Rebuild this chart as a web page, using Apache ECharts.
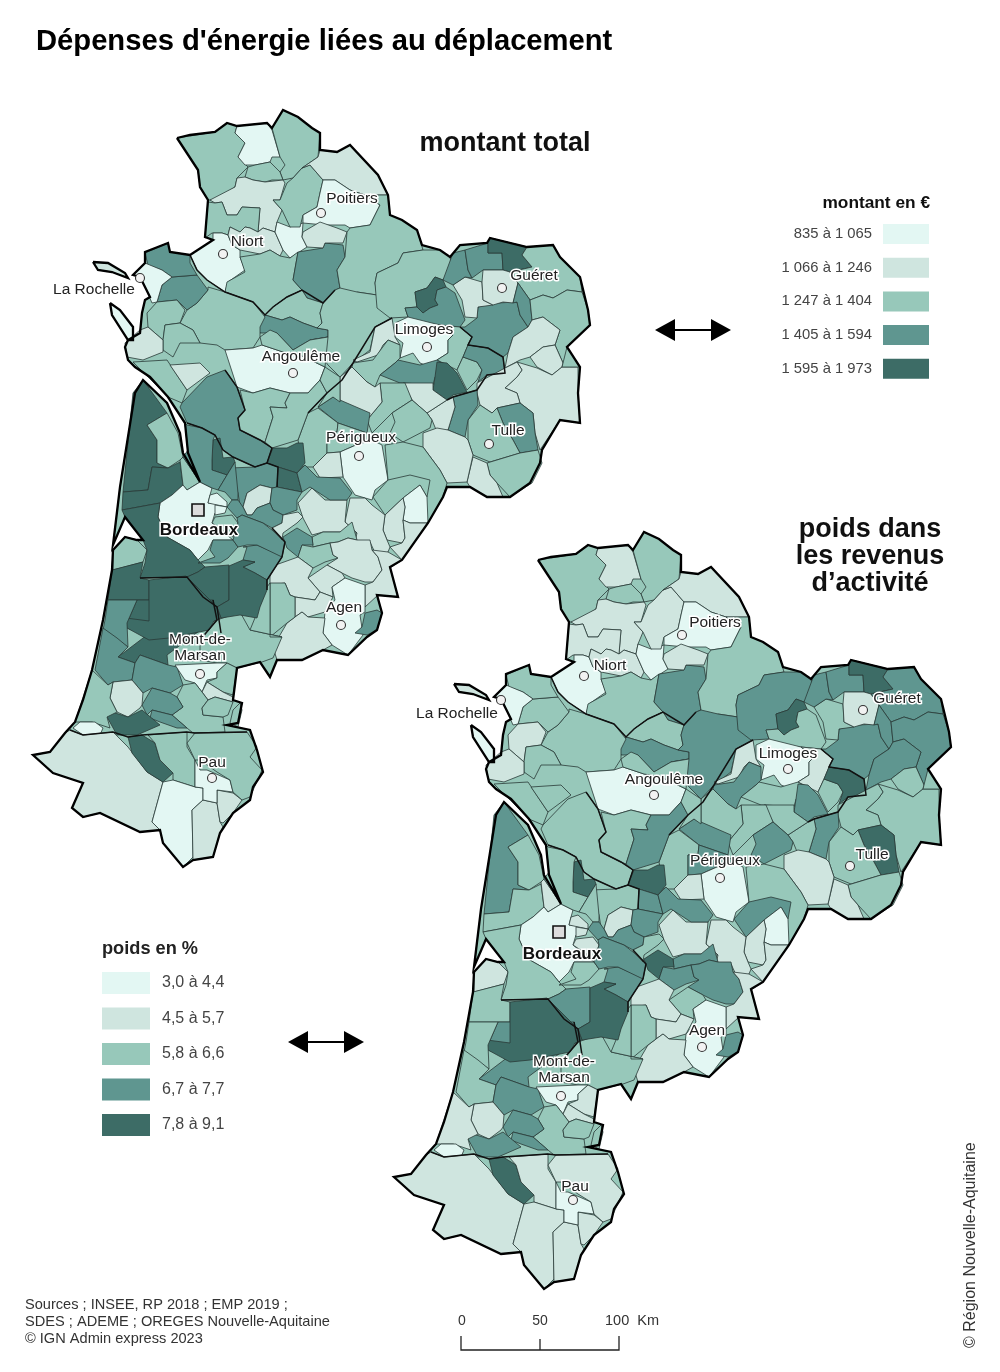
<!DOCTYPE html>
<html><head><meta charset="utf-8">
<style>html,body{margin:0;padding:0;background:#fff}#c{width:1000px;height:1372px}</style>
<script src="https://cdn.jsdelivr.net/npm/echarts@6/dist/echarts.min.js"></script>
</head><body><div id="c"></div>
<script>
// ---- class breaks and legends
const montantLabels=['835 à 1 065','1 066 à 1 246','1 247 à 1 404','1 405 à 1 594','1 595 à 1 973'];
const montantMin=[835,1066,1247,1405,1595];
const montantMax=[1065,1246,1404,1594,1973];
const poidsLabels=['3,0 à 4,4','4,5 à 5,7','5,8 à 6,6','6,7 à 7,7','7,8 à 9,1'];
const poidsMin=[3.0,4.5,5.8,6.7,7.8];
const poidsMax=[4.4,5.7,6.6,7.7,9.1];
const classColors=['#e3f7f3','#cfe5df','#97c8ba','#5f9690','#3d6c66'];

// ---- territories: values estimated from the class colour of each map (one value per zone, same order as zoneShapes)
const montant=[
1320,1320,950,1320,1320,1150,1320,950,1150,950,
1320,1500,1320,1150,950,1150,1320,1320,1500,1320,
1320,1750,1500,950,1320,1150,1320,1500,1750,1320,
1500,1500,1150,1500,1500,1750,1150,1320,1500,1320,
1150,1150,1150,1320,1150,1500,1320,1320,1150,1500,
1150,1150,1150,1320,1320,1150,1500,1320,1320,950,
1150,1320,1320,950,1150,1150,1150,1150,1320,1500,
1320,1150,1150,1150,950,1500,1150,1150,1150,1320,
1320,1320,1750,1320,1750,1320,950,1320,1750,1750,
1500,1500,1750,1750,1750,1750,1500,1500,1500,950,
1320,1150,1320,1320,1320,1500,1500,1150,1750,1320,
950,1150,1750,1320,950,1150,1150,950,1320,1500,
1320,1500,1500,950,1320,1320,1150,1320,1150,950,
1320,1320,1320,1320,1750,1750,1500,1150,1500,1500,
1750,1500,1500,1500,950,950,1320,1500,1150,1150,950
];
const poids=[
6.2,6.2,5.1,6.2,6.2,5.1,5.1,3.8,5.1,3.8,
6.2,7.2,5.1,5.1,3.8,5.1,6.2,6.2,7.2,7.2,
7.2,8.4,6.2,3.8,5.1,5.1,7.2,6.2,7.2,6.2,
8.4,7.2,6.2,7.2,7.2,8.4,5.1,7.2,7.2,7.2,
7.2,6.2,6.2,6.2,6.2,8.4,6.2,6.2,5.1,7.2,
6.2,6.2,5.1,6.2,7.2,6.2,7.2,6.2,7.2,3.8,
5.1,6.2,7.2,3.8,5.1,5.1,5.1,5.1,7.2,8.4,
7.2,7.2,5.1,6.2,3.8,7.2,5.1,5.1,5.1,6.2,
6.2,6.2,7.2,6.2,6.2,5.1,3.8,5.1,6.2,7.2,
6.2,7.2,8.4,6.2,7.2,8.4,6.2,6.2,7.2,3.8,
5.1,5.1,6.2,6.2,6.2,7.2,7.2,5.1,7.2,5.1,
3.8,5.1,8.4,5.1,5.1,5.1,5.1,3.8,5.1,6.2,
6.2,6.2,6.2,3.8,5.1,6.2,5.1,6.2,6.2,3.8,
6.2,6.2,7.2,6.2,8.4,7.2,6.2,5.1,7.2,7.2,
8.4,6.2,6.2,7.2,5.1,5.1,5.1,7.2,6.2,5.1,3.8
];
const outlineRing=[177,138,190,135,215,132,227,123,237,126,267,123,272,128,283,110,298,117,312,128,320,133,320,150,337,152,350,145,378,175,388,195,390,215,402,220,417,230,422,245,440,250,450,257,460,245,487,243,490,238,527,247,553,245,560,257,580,277,588,310,590,325,567,347,580,367,578,393,580,423,560,420,542,450,540,463,530,483,510,497,487,497,470,487,447,487,443,497,428,523,402,560,390,567,398,597,377,595,382,613,377,630,367,637,348,655,323,650,302,660,277,660,270,677,260,662,237,668,233,700,242,703,238,723,227,725,250,730,257,750,263,772,253,787,250,800,233,813,220,833,213,857,193,860,183,867,163,843,160,830,140,832,100,813,83,817,72,808,83,783,53,773,33,755,50,752,65,733,75,722,83,700,92,670,103,620,112,570,113,550,125,537,137,540,143,540,125,517,113,545,120,487,135,393,143,380,167,403,180,433,183,453,200,482,188,453,185,423,168,397,150,377,135,367,128,360,125,347,128,340,140,333,142,313,145,300,150,297,140,277,133,275,145,263,145,252,168,243,170,252,190,255,213,240,205,237,208,200,200,187,198,170];
const zoneShapes=[
outlineRing,
[177,138,215,132,227,123,237,126,235,133,245,143,238,157,248,167,237,178,235,187,215,200,208,200,200,187,198,170],
[237,126,267,123,272,130,280,157,272,157,270,162,255,165,245,165,238,157,245,143,235,133],
[272,128,283,110,298,117,312,128,320,133,318,157,302,168,293,178,283,180,280,172,285,165,280,157],
[248,167,255,165,270,162,273,165,280,172,283,180,272,180,265,182,253,180,245,177],
[245,177,253,180,265,182,283,180,285,183,280,200,273,200,282,210,277,222,275,232,263,228,258,232,260,208,242,207,237,215,227,215,222,202,215,203,210,200,235,187,237,178],
[208,202,215,203,222,202,227,215,237,215,242,207,260,208,258,232,250,228,245,227,240,232,230,227,228,235,222,233,212,233,205,238],
[213,233,222,233,228,235,232,245,240,250,240,257,245,270,228,282,225,292,207,280,197,270,190,255,213,240],
[228,235,230,227,240,232,245,227,250,228,258,232,263,228,275,232,283,250,280,256,270,250,260,254,240,250,232,245],
[277,222,290,227,303,223,302,237,307,247,290,258,283,250,275,232],
[240,257,260,254,270,250,280,256,290,258,298,252,293,280,302,290,287,297,273,307,265,315,253,302,225,292,227,282,245,272],
[298,252,323,248,325,243,343,245,345,257,337,270,340,288,335,290,323,303,307,298,302,290,293,280],
[280,200,287,183,293,178,302,168,310,165,323,180,320,193,317,207,303,215,300,227,290,227,282,210,273,200],
[318,157,320,150,337,152,350,145,378,175,388,195,365,195,350,190,335,180,323,180,310,165,302,168],
[323,180,335,180,350,190,365,195,380,205,370,225,350,228,345,225,325,225,303,223,303,215,317,207,320,193],
[303,232,320,222,337,228,347,232,343,243,325,243,323,248,307,247,302,237],
[350,228,370,225,380,205,365,195,388,195,390,215,402,220,417,230,423,250,403,253,398,263,377,273,375,283,377,295,357,292,345,300,337,290,340,288,337,270,345,257,347,232],
[265,315,273,307,287,297,302,290,307,298,323,303,320,313,322,323,317,328,303,323,290,317,282,320],
[258,327,265,315,282,320,290,317,303,323,317,328,328,330,328,337,310,340,293,350,277,333,260,333],
[323,303,335,290,340,288,357,292,377,295,392,318,375,327,370,350,353,363,340,377,328,365,310,340,328,337,328,330,317,328,322,323,320,313],
[398,263,403,253,423,250,440,250,450,257,452,267,443,280,435,277,427,288,415,292,417,307,405,308,408,317,390,318,377,308,375,283,377,273],
[415,292,427,288,435,277,443,280,446,287,437,290,435,300,438,305,430,308,423,313,417,308],
[446,287,455,293,465,320,460,327,440,325,417,323,408,317,405,308,417,307,423,313,430,308,438,305,435,300,437,290],
[395,323,408,317,440,325,453,335,448,340,448,353,437,360,430,367,420,363,413,353,400,358,403,343,395,337],
[460,327,472,337,468,345,463,357,457,370,437,360,448,353,448,340,453,335,440,325],
[353,360,370,352,375,327,392,318,395,337,400,345,388,340,383,345,378,355,357,362],
[353,363,373,360,388,340,400,345,400,358,398,360,395,363,380,375,375,387,367,382,352,367],
[380,375,395,363,398,360,420,365,437,360,455,372,435,377,433,385,405,383,400,383],
[437,362,447,363,457,373,467,392,453,395,447,400,433,390,435,377],
[457,370,463,357,477,362,482,370,477,380,467,390],
[468,345,488,348,503,357,505,373,487,375,478,382,482,370,477,362,463,357],
[465,327,477,318,478,307,497,303,517,302,520,315,528,327,513,337,508,353,503,357,488,348,468,345,472,337,460,327],
[453,285,465,277,482,282,483,300,493,305,478,307,477,318,465,317,462,300],
[443,280,453,253,465,250,468,270,472,278,465,277,453,285],
[465,250,488,243,488,253,502,253,503,270,483,270,472,278,468,270],
[488,243,490,238,527,247,522,255,532,267,510,272,503,270,502,253,488,253],
[483,270,503,270,510,272,518,283,513,303,503,302,493,305,483,300,482,282],
[510,272,532,267,522,255,527,247,553,245,560,257,580,277,582,292,567,290,553,298,543,295,530,300,518,283],
[518,283,530,300,532,320,528,327,520,315,517,302,513,303],
[530,300,543,295,553,298,567,290,582,292,588,310,590,325,567,347,570,360,563,363,555,345,560,330,543,317,532,320],
[508,353,513,337,528,327,532,320,543,317,560,330,555,345,543,347,530,357,520,360,505,368],
[530,357,543,347,555,345,563,363,562,367,552,375,537,367],
[517,362,537,368,552,375,562,367,578,367,578,393,580,423,560,420,540,450,535,433,533,413,520,403,517,393,505,388,517,377,522,370],
[563,363,567,347,580,367,562,367],
[477,383,505,368,517,362,522,370,517,377,505,388,517,393,520,403,497,408,492,413,480,405,477,393],
[497,408,520,403,533,413,535,433,538,450,520,453,513,440,503,423],
[468,420,480,405,492,413,497,408,503,423,513,440,520,453,490,462,473,455,468,440],
[487,463,520,453,538,450,542,463,532,483,510,497,497,483,490,475],
[467,482,473,457,487,463,490,475,497,483,503,497,487,497,470,487],
[448,430,455,407,453,397,477,390,478,405,468,420,465,437],
[427,413,447,400,453,397,455,407,448,430,437,432,432,420],
[403,383,433,383,433,390,447,400,427,413,412,400],
[423,433,437,428,448,430,465,437,468,440,473,455,467,482,447,483,440,470,423,447],
[380,383,405,383,412,400,392,413,372,433,367,420,382,402],
[392,413,412,400,427,413,432,420,430,428,403,442,390,433,395,422],
[340,377,352,367,367,382,375,387,380,383,382,402,367,420,340,402],
[318,407,333,397,370,413,367,433,338,423],
[298,440,308,413,318,408,338,423,337,432,327,433,327,453,313,467,303,467],
[338,423,367,433,372,440,356,445,340,452,327,453,327,433,337,432],
[356,445,372,440,382,445,388,480,375,490,372,500,355,495,343,477,340,452],
[313,467,327,453,340,452,343,477,320,478],
[385,445,403,442,423,447,440,470,447,483,443,497,428,523,410,500,390,490,388,480],
[373,497,388,480,410,475,430,480,427,497,420,485,403,498,385,515],
[403,498,420,485,427,497,428,523,410,523,403,520,405,507],
[385,515,403,498,405,507,403,520,405,538,402,543,387,540,383,530],
[403,520,410,523,428,523,402,560,390,547,402,543,405,538],
[345,522,350,498,365,498,372,505,385,515,383,530,387,540,390,547,388,552,377,557,370,542,355,542,357,533],
[298,503,312,488,325,500,347,500,345,522,357,533,340,532,323,532,312,535,303,518],
[312,537,323,532,340,532,352,522,357,540,348,538,338,542,330,543,313,547],
[283,537,297,528,312,537,313,545,302,545,298,557,287,548],
[298,557,302,545,313,547,330,543,333,555,338,558,325,562,313,568],
[330,543,338,542,348,538,357,540,370,540,372,550,378,557,382,570,373,582,365,582,352,578,342,573,327,565,338,558,333,555],
[372,550,388,552,402,560,390,568,398,597,378,595,365,607,365,585,373,582,382,570,378,557],
[308,578,327,565,342,573,345,578,332,587,333,597,320,592],
[332,587,345,578,365,585,365,607,365,612,360,615,363,635,348,655,332,645,323,633,325,612,335,600],
[365,613,377,610,382,613,377,630,367,635,355,633,362,627],
[270,567,298,557,313,568,308,578,320,592,315,600,295,597,290,595,285,583,270,585],
[295,597,315,600,320,592,333,597,325,612,308,617,302,612,295,617],
[273,647,287,623,295,617,302,612,308,617,325,618,323,633,332,645,323,650,302,660,277,660],
[270,583,285,583,290,595,295,597,295,617,287,623,270,637],
[217,620,240,612,250,630,282,637,273,658,262,662,237,668,227,663,217,663,200,660,200,640],
[250,630,257,613,267,587,270,583,270,637,282,637],
[143,380,167,413,147,425,157,440,157,463,168,468,152,467,148,490,123,492,133,393],
[147,425,167,413,178,433,183,457,180,460,168,468,157,463,157,440],
[123,492,148,490,152,467,168,468,180,462,183,485,172,495,160,503,122,510],
[180,460,183,457,200,482,187,490,183,485],
[172,495,183,485,187,490,200,482,212,488,210,495,208,503,215,503,227,507,215,513,212,523,233,540,213,540,208,550,198,560,190,550,167,537,158,517,160,503],
[113,570,113,550,125,537,137,540,147,550,143,562],
[145,563,147,550,143,540,125,517,122,510,160,503,158,517,167,537,190,550,198,560,205,567,198,572,187,577,140,578],
[187,577,198,572,205,567,229,565,229,600,217,607,203,597],
[198,563,215,557,210,550,213,540,233,540,238,547,228,558,220,563],
[243,547,257,545,280,555,282,557,267,580,255,573,243,567,255,562,243,560,247,547],
[229,566,243,560,255,562,243,567,255,573,267,580,267,590,260,607,257,618,240,615,221,618,217,607,229,600],
[112,570,143,562,140,578,149,580,149,600,137,600,108,600],
[127,623,137,600,213,600,217,620,210,623,167,655,168,665,140,655,135,663,118,657,147,635,127,628],
[149,580,186,576,216,606,221,618,214,621,209,630,169,638,149,640,127,628,126,618,149,621],
[105,620,108,600,137,600,127,623,128,647,103,630],
[103,628,117,638,128,647,118,657,135,663,132,680,113,682,108,685,95,670],
[135,663,140,655,168,665,177,667,183,685,170,693,152,688,143,693,132,680],
[175,665,217,663,227,663,217,672,217,678,207,680,202,692,195,683,185,680],
[217,672,227,663,237,668,233,695,223,692,207,682,217,678],
[202,692,207,682,223,692,233,697,233,702,215,697,208,700],
[183,685,195,683,202,692,208,700,202,708,203,715,223,717,225,732,193,733,187,728,172,715,183,707,177,697],
[208,700,215,697,233,702,228,715,223,717,203,715,202,708],
[230,723,233,710,240,703,242,710,238,727],
[142,705,152,688,170,693,177,697,183,707,172,715,152,710,147,715],
[152,710,172,715,187,728,177,728,160,722,150,718],
[110,698,113,682,132,680,143,693,142,705,140,708,128,717,117,712],
[107,717,112,712,128,717,142,710,160,725,137,735,117,735],
[75,722,92,670,108,685,113,682,110,698,117,712,107,717,110,728,92,722],
[73,728,80,722,95,722,103,728,100,735,83,735],
[33,755,50,752,65,733,70,730,83,735,113,732,128,747,147,772,163,782,152,822,160,830,140,832,100,813,83,817,72,808,83,783,53,773],
[128,737,142,735,155,743,160,760,173,773,163,782,147,772,132,753],
[148,735,187,732,187,747,195,760,195,787,173,780,173,773,160,760,155,743],
[163,782,173,780,195,787,203,788,203,800,192,810,193,857,183,867,163,843,160,830,152,822],
[192,810,203,800,217,803,220,822,223,827,220,833,213,857,193,860],
[217,790,233,793,242,800,233,813,223,823,220,822,217,803],
[195,760,200,770,207,770,230,780,233,792,217,790,217,803,203,800,203,788,195,787],
[187,743,195,733,247,732,257,747,250,757,262,770,250,797,242,800,233,792,230,780,217,772,200,760,195,760],
[182,403,207,377,225,370,237,387,245,410,238,418,240,430,260,440,272,448,267,463,255,467,233,457,223,450,215,435,202,428,187,423,180,407],
[208,287,225,292,253,302,265,317,260,327,260,337,253,348,225,350,217,345,200,343,193,330,180,323,187,310,197,303,208,290],
[162,285,172,277,197,275,208,290,197,303,187,310,177,300,157,302],
[145,253,168,243,170,252,190,255,190,263,197,275,172,277,162,270,148,265],
[133,275,145,263,162,270,172,277,162,285,157,302,152,303,145,287,140,277],
[147,313,157,302,177,300,185,310,180,323,165,325,163,340,148,327],
[165,325,180,323,193,330,200,343,180,343,173,357,163,350,163,340],
[125,343,140,330,148,327,163,340,163,352,143,360,127,357],
[133,362,167,360,187,390,182,403,168,397],
[170,365,200,363,210,373,187,390],
[225,350,253,348,262,345,283,352,300,355,325,367,320,380,308,393,290,393,270,388,253,393,237,387],
[260,337,270,330,277,333,293,350,310,340,328,337,325,367,300,355,283,352,262,345],
[240,390,253,393,270,388,290,393,285,403,287,408,270,407,273,417,265,442,260,440,240,430,238,418,245,410],
[290,393,308,393,320,380,327,393,308,413,298,440,272,448,265,442,273,417,270,407,287,408,285,403],
[320,380,325,367,340,377,340,402,333,397,318,407,327,393],
[268,460,273,448,287,448,297,443,303,443,305,463,297,473,278,467,267,465],
[278,467,297,473,302,492,277,487],
[230,468,255,467,267,463,278,467,277,487,272,488,260,485,247,493,243,507,240,505,238,493],
[243,507,247,493,260,485,272,488,270,503,257,508,252,515,247,515],
[272,488,277,487,302,492,297,500,297,510,283,515,273,510,270,503],
[297,473,305,465,317,477,340,478,352,493,347,500,330,500,310,487,302,492],
[212,460,213,440,220,438,223,458,233,457,235,462,227,475,212,470],
[187,425,202,428,215,435,213,440,212,460,212,470,227,475,218,490,212,488,200,482,183,457,188,450,185,423],
[218,490,227,475,235,462,238,493,238,500,232,500,225,492],
[227,507,232,500,238,500,243,507,247,515,252,515,257,508,270,503,273,510,283,515,282,523,272,528,263,523,242,515,237,518],
[210,495,217,493,227,502,227,507,208,503],
[215,505,227,507,225,513,215,515],
[215,517,232,515,238,523,233,537,212,523],
[237,518,242,515,263,523,272,530,285,542,282,557,257,545,247,545,238,547,233,540,238,523],
[272,528,282,523,283,515,298,512,303,517,297,523,283,533,282,540],
[93,262,108,263,125,273,128,278,112,272,98,270],
[110,303,120,310,133,327,133,340,128,340,112,315]
];
const deptLines=[
[190,255,197,270,207,280,225,292,253,302,265,315,273,307,287,297,302,290,323,303,335,290],
[225,370,237,387,245,410,238,418,240,430,260,440,272,448,267,463,278,467,277,487],
[187,423,202,428,215,435,223,450,233,457,255,467,267,463],
[308,413,327,393,342,380,353,363,375,327,392,318],
[460,327,472,337,468,345,488,348,503,357,505,373,487,375,477,390,453,397,447,400],
[140,578,187,577,203,597,217,607,221,633],
[70,730,83,735,113,732,128,737,142,735,187,732,195,733,247,732],
[213,600,217,620,200,640],
[272,528,285,542,282,557,267,580,267,590]
];
const cityNames=['Poitiers','Niort','La Rochelle','Angoulême','Limoges','Guéret','Périgueux','Tulle','Bordeaux','Agen','Mont-de-\nMarsan','Pau'];
const cityPoints=[[321,213],[223,254],[140,278],[293,373],[427,347],[502,288],[359,456],[489,444],[198,510],[341,625],[200,674],[212,778]];
const labelOffsetsLeft=[[31,-14],[24,-12],[-46,12],[8,-16],[-3,-17],[32,-12],[2,-18],[19,-13],[1,20],[3,-17],[0,-26],[0,-15]];
const labelOffsetsRight=[[33,-12],[26,-10],[-44,14],[10,-15],[0,-15],[34,-11],[5,-17],[22,-11],[3,22],[5,-16],[3,-26],[2,-13]];
const mapOffsetRight=[361,422];
const creditLines=['Sources ; INSEE, RP 2018 ; EMP 2019 ;','SDES ; ADEME ; OREGES Nouvelle-Aquitaine','© IGN Admin express 2023'];

// ---- build the shared territory map
const zoneName=i=>'Zone '+i;
const toRing=f=>{const r=[];for(let i=0;i<f.length;i+=2)r.push([f[i],-f[i+1]]);r.push([f[0],-f[1]]);return r;};
const toLine=f=>{const r=[];for(let i=0;i<f.length;i+=2)r.push([f[i],-f[i+1]]);return r;};
echarts.registerMap('na',{type:'FeatureCollection',features:zoneShapes.map((f,i)=>({type:'Feature',properties:{name:zoneName(i)},geometry:{type:'Polygon',coordinates:[toRing(f)]}}))});
const FONT='"Liberation Sans",Arial,sans-serif';
const W=640,H=910;
const geoBase=(l,t)=>({map:'na',left:l,top:t,width:W,height:H,aspectScale:1,boundingCoords:[[0,0],[W,-H]],roam:false,silent:true,
  label:{show:false},itemStyle:{borderColor:'#2a3a37',borderWidth:0.8,areaColor:'#97c8ba'},emphasis:{disabled:true},select:{disabled:true}});
const mapSeries=(g,vals)=>({type:'map',geoIndex:g,silent:true,showLegendSymbol:false,animation:false,
  data:vals.map((v,i)=>({name:zoneName(i),value:v}))});
const closed=f=>toLine(f.concat(f.slice(0,2)));
const lineSeries=g=>[
 {type:'lines',coordinateSystem:'geo',geoIndex:g,polyline:true,silent:true,animation:false,z:3,lineStyle:{color:'#111',width:1.5,opacity:1},data:deptLines.map(f=>({coords:toLine(f)}))},
 {type:'lines',coordinateSystem:'geo',geoIndex:g,polyline:true,silent:true,animation:false,z:4,lineStyle:{color:'#000',width:2.3,opacity:1},data:[{coords:closed(outlineRing)},{coords:closed(zoneShapes[zoneShapes.length-2])},{coords:closed(zoneShapes[zoneShapes.length-1])}]}
];
const citySeries=(g,offs)=>({type:'scatter',coordinateSystem:'geo',geoIndex:g,silent:true,animation:false,z:6,
  data:cityNames.map((n,i)=>{const b=n==='Bordeaux';return {name:n,value:[cityPoints[i][0],-cityPoints[i][1]],
    symbol:b?'rect':'circle',symbolSize:b?12:9,
    itemStyle:{color:b?'#dcdcdc':'#f2f2f2',borderColor:b?'#111':'#333',borderWidth:b?1.6:1.1,opacity:1},
    label:{show:true,position:'inside',offset:offs[i],formatter:'{b}',fontFamily:FONT,fontSize:b?17:15.5,fontWeight:b?'bold':'normal',lineHeight:16,color:b?'#111':'#222',textBorderColor:'#fff',textBorderWidth:3}};})});
const vm=(si,mins,maxs,labels,size,extra)=>Object.assign({type:'piecewise',seriesIndex:si,orient:'vertical',inverse:true,padding:0,
  pieces:mins.map((m,i)=>({min:m,max:maxs[i],label:labels[i],color:classColors[i]})),
  selectedMode:false,hoverLink:false,textStyle:{fontFamily:FONT,fontSize:size,color:'#444'},itemSymbol:'rect'},extra);

const arrow=(x0,x1,y)=>[
 {type:'line',shape:{x1:x0+15,y1:y,x2:x1-15,y2:y},style:{stroke:'#000',lineWidth:2}},
 {type:'polygon',shape:{points:[[x0,y],[x0+20,y-11],[x0+20,y+11]]},style:{fill:'#000'}},
 {type:'polygon',shape:{points:[[x1,y],[x1-20,y-11],[x1-20,y+11]]},style:{fill:'#000'}}
];
const txt=(x,y,t,size,extra)=>({type:'text',x,y,style:Object.assign({text:t,fontFamily:FONT,fontSize:size,fill:'#333',textVerticalAlign:'middle'},extra||{})});

const chart=echarts.init(document.getElementById('c'),null,{width:1000,height:1372,renderer:'canvas'});
chart.setOption({
 animation:false,backgroundColor:'#fff',
 title:[
  {text:"Dépenses d'énergie liées au déplacement",left:36,top:27,padding:0,textStyle:{fontFamily:FONT,fontSize:29.2,fontWeight:'bold',color:'#000'}},
  {text:'montant total',left:505,top:130,padding:0,textAlign:'center',textStyle:{fontFamily:FONT,fontSize:27,fontWeight:'bold',color:'#111'}},
  {text:'poids dans\nles revenus\nd’activité',left:870,top:516,padding:0,textAlign:'center',textStyle:{fontFamily:FONT,fontSize:27,fontWeight:'bold',color:'#111',lineHeight:27}}
 ],
 geo:[geoBase(0,0),geoBase(mapOffsetRight[0],mapOffsetRight[1])],
 visualMap:[
  vm(0,montantMin,montantMax,montantLabels,14.8,{right:71,top:224,itemWidth:46,itemHeight:20,itemGap:13.7,textGap:11,align:'right'}),
  vm(1,poidsMin,poidsMax,poidsLabels,16,{left:102,top:972,itemWidth:48,itemHeight:22,itemGap:13.5,textGap:12,align:'left'})
 ],
 series:[mapSeries(0,montant),mapSeries(1,poids),...lineSeries(0),...lineSeries(1),citySeries(0,labelOffsetsLeft),citySeries(1,labelOffsetsRight)],
 graphic:{elements:[
  ...arrow(655,731,330),...arrow(288,364,1042),
  txt(930,203,'montant en €',17.3,{fontWeight:'bold',fill:'#111',textAlign:'right'}),
  txt(102,949,'poids en %',18.2,{fontWeight:'bold',fill:'#222'}),
  txt(25,1305,creditLines[0],14.6),txt(25,1322,creditLines[1],14.6),txt(25,1339,creditLines[2],14.6),
  txt(462,1321,'0',14,{textAlign:'center'}),txt(540,1321,'50',14,{textAlign:'center'}),txt(605,1321,'100  Km',14.5),
  {type:'polyline',shape:{points:[[461,1336],[461,1350],[619,1350],[619,1336]]},style:{stroke:'#222',fill:null,lineWidth:1.3}},
  {type:'line',shape:{x1:540,y1:1339,x2:540,y2:1350},style:{stroke:'#222',lineWidth:1.3}},
  {type:'text',x:971,y:1348,rotation:Math.PI/2,style:{text:'© Région Nouvelle-Aquitaine',fontFamily:FONT,fontSize:16,fill:'#333',textVerticalAlign:'middle',textAlign:'left'}}
 ]}
});
</script></body></html>
